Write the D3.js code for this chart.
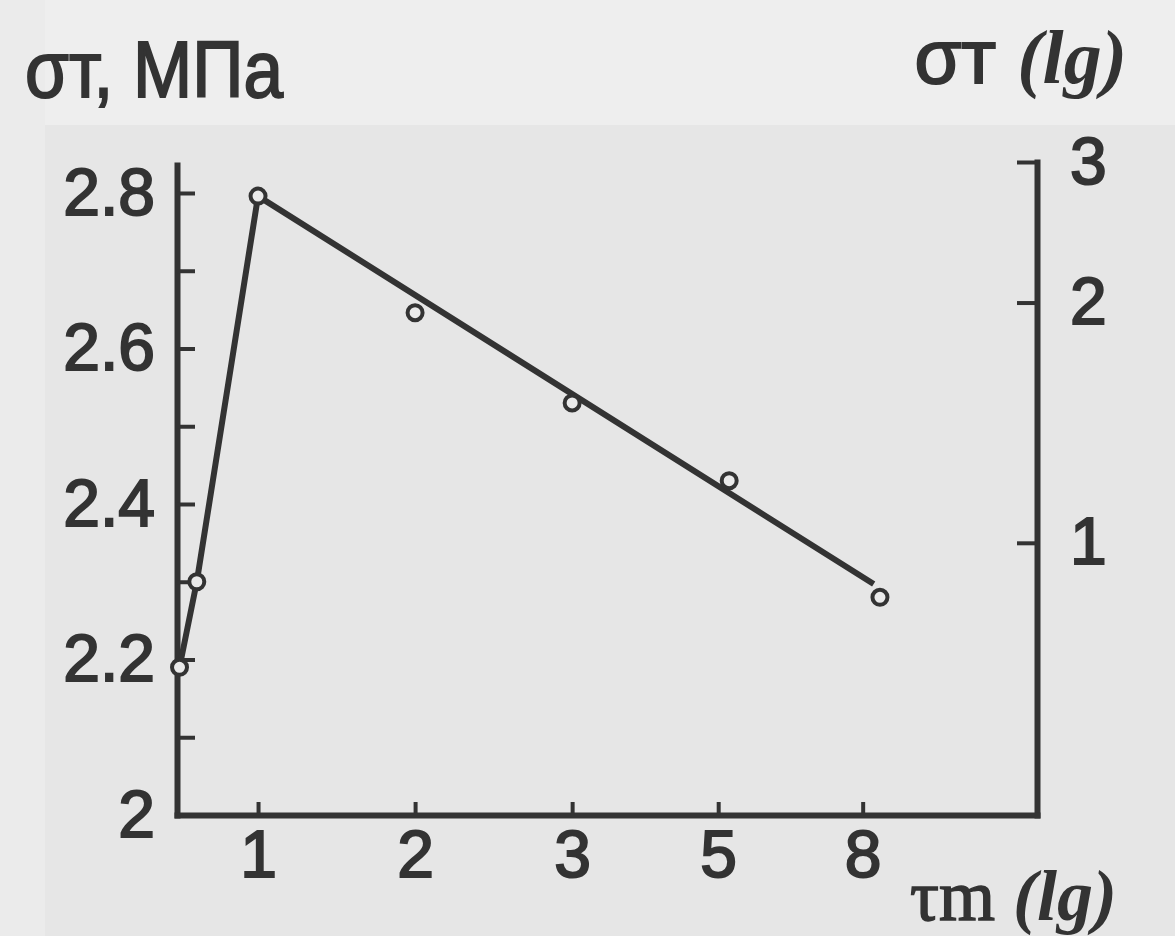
<!DOCTYPE html>
<html>
<head>
<meta charset="utf-8">
<script src="https://cdn.jsdelivr.net/npm/d3@7"></script>
<style>
  body { margin: 0; background: #e8e8e8; }
  svg { display: block; }
  .axis path, .axis line { stroke: #333; stroke-width: 6; }
  .axis text { fill: #333; stroke: #333; stroke-width: 2px; font-family: "Liberation Sans", Arial, sans-serif; font-size: 66px; }
</style>
</head>
<body>
<svg id="chart" width="1175" height="936"></svg>
<script>
// x axis is drawn in evenly spaced positions, labelled with tau values
const xTickLabels = ['1', '2', '3', '5', '8'];
const xTickPos = [1, 2, 3, 3.93, 4.85];

// measured points (sigma, MPa)
const pointPos = [0.5, 0.61, 1, 2, 3, 4, 4.96];
const sigma = [2.19, 2.30, 2.796, 2.646, 2.53, 2.43, 2.28];

// the drawn curve: broken line up to the peak, then a straight fit
const linePos = [0.5, 0.61, 1, 4.92];
const lineSigma = [2.19, 2.30, 2.796, 2.297];

const leftTicks = [2, 2.1, 2.2, 2.3, 2.4, 2.5, 2.6, 2.7, 2.8];
const leftLabels = [2, 2.2, 2.4, 2.6, 2.8];
const rightTicks = [1, 2, 3];

const INK = '#333';
const svg = d3.select('#chart');

// scan background bands
svg.append('rect').attr('width', 1175).attr('height', 936).attr('fill', '#e6e6e6');
svg.append('rect').attr('width', 1175).attr('height', 125).attr('fill', '#eeeeee');
svg.append('rect').attr('width', 45).attr('height', 936).attr('fill', '#ebebeb');

const xScale = d3.scaleLinear().domain([0.484, 5.96]).range([177, 1037]);
const yLeft = d3.scaleLinear().domain([2, 2.836]).range([815, 165]);
const yRight = d3.scaleLog().domain([0.456, 3]).range([815, 162]);

// left axis, ticks pointing inwards
svg.append('g')
  .attr('class', 'axis')
  .attr('transform', 'translate(177,0)')
  .call(d3.axisLeft(yLeft)
    .tickValues(leftTicks)
    .tickSizeInner(-18)
    .tickSizeOuter(0)
    .tickPadding(22)
    .tickFormat(d => leftLabels.some(v => Math.abs(v - d) < 1e-9) ? d3.format('~g')(d) : ''));

// right axis (log)
svg.append('g')
  .attr('class', 'axis')
  .attr('transform', 'translate(1037,0)')
  .call(d3.axisRight(yRight)
    .tickValues(rightTicks)
    .tickSizeInner(-20)
    .tickSizeOuter(0)
    .tickPadding(33)
    .tickFormat(d3.format('d')));

// bottom axis
svg.append('g')
  .attr('class', 'axis')
  .attr('transform', 'translate(0,815)')
  .call(d3.axisBottom(xScale)
    .tickValues(xTickPos)
    .tickSizeInner(-13)
    .tickSizeOuter(0)
    .tickPadding(15)
    .tickFormat((d, i) => xTickLabels[i]));

svg.selectAll('.axis path').attr('stroke-linecap', 'square');
svg.selectAll('.axis line').style('stroke-width', 4);

// curve
const line = d3.line()
  .x(d => xScale(d[0]))
  .y(d => yLeft(d[1]));
svg.append('path')
  .datum(d3.zip(linePos, lineSigma))
  .attr('d', line)
  .attr('fill', 'none')
  .attr('stroke', INK)
  .attr('stroke-width', 6)
  .attr('stroke-linejoin', 'round');

// points
svg.append('g')
  .selectAll('circle')
  .data(d3.zip(pointPos, sigma))
  .join('circle')
  .attr('cx', d => xScale(d[0]))
  .attr('cy', d => yLeft(d[1]))
  .attr('r', 7.5)
  .attr('fill', '#eaeaea')
  .attr('stroke', INK)
  .attr('stroke-width', 4);

// titles
svg.append('text')
  .attr('x', 25).attr('y', 97)
  .attr('textLength', 258).attr('lengthAdjust', 'spacingAndGlyphs')
  .attr('fill', INK).attr('stroke', INK).attr('stroke-width', 2)
  .style('font-family', '"Liberation Sans", Arial, sans-serif')
  .style('font-size', '80px')
  .text('σт, МПа');

const rt = svg.append('text')
  .attr('x', 1127).attr('y', 83)
  .attr('text-anchor', 'end')
  .attr('fill', INK)
  .style('font-size', '76px');
rt.append('tspan')
  .style('font-family', '"Liberation Sans", Arial, sans-serif')
  .attr('stroke', INK).attr('stroke-width', 2)
  .text('σт ');
rt.append('tspan')
  .style('font-family', '"Liberation Serif", serif')
  .style('font-weight', 'bold').style('font-style', 'italic')
  .text('(lg)');

const bt = svg.append('text')
  .attr('x', 1117).attr('y', 920)
  .attr('text-anchor', 'end')
  .attr('fill', INK)
  .style('font-size', '72px');
bt.append('tspan')
  .style('font-family', '"Liberation Serif", serif')
  .attr('stroke', INK).attr('stroke-width', 1.5)
  .text('τm ');
bt.append('tspan')
  .style('font-family', '"Liberation Serif", serif')
  .style('font-weight', 'bold').style('font-style', 'italic')
  .text('(lg)');
</script>
</body>
</html>
